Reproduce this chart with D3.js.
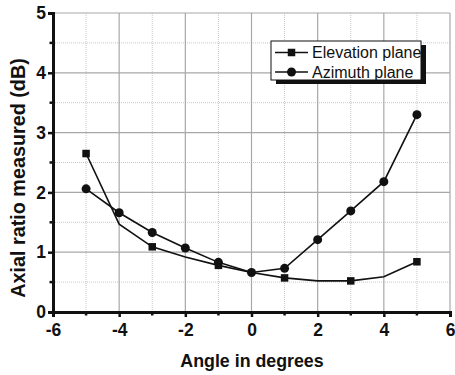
<!DOCTYPE html>
<html>
<head>
<meta charset="utf-8">
<script src="https://cdn.jsdelivr.net/npm/d3@7"></script>
<style>
  html, body { margin: 0; padding: 0; background: #fff; }
  svg { display: block; font-family: "Liberation Sans", Arial, sans-serif; }
</style>
</head>
<body>
<svg id="chart" width="455" height="375"></svg>
<script>
// Measured axial ratio vs. pointing angle
const angles = [-5, -4, -3, -2, -1, 0, 1, 2, 3, 4, 5];
const elevation = [2.65, 1.47, 1.09, 0.92, 0.78, 0.66, 0.57, 0.52, 0.52, 0.59, 0.84];
const azimuth = [2.06, 1.66, 1.33, 1.07, 0.83, 0.66, 0.73, 1.21, 1.69, 2.18, 3.30];
const elevationMarkerAngles = [-5, -3, -1, 1, 3, 5];
const xTicks = [-6, -4, -2, 0, 2, 4, 6];
const yTicks = [0, 1, 2, 3, 4, 5];
const seriesNames = ["Elevation plane", "Azimuth plane"];

(function () {
const svg = d3.select("#chart");
const mLeft = 53, mRight = 450, mTop = 13, mBottom = 312;

const x = d3.scaleLinear().domain([-6, 6]).range([mLeft, mRight]);
const y = d3.scaleLinear().domain([0, 5]).range([mBottom, mTop]);

// grid: solid major lines, dotted minor lines
const grid = svg.append("g");
const minorX = d3.range(-5, 6, 2);
const minorY = d3.range(0.5, 5, 1);
grid.selectAll(".mx").data(minorX).enter().append("line")
  .attr("x1", d => x(d)).attr("x2", d => x(d)).attr("y1", mTop).attr("y2", mBottom)
  .attr("stroke", "#c8c8c8").attr("stroke-width", 1).attr("stroke-dasharray", "1,1");
grid.selectAll(".my").data(minorY).enter().append("line")
  .attr("y1", d => y(d)).attr("y2", d => y(d)).attr("x1", mLeft).attr("x2", mRight)
  .attr("stroke", "#c8c8c8").attr("stroke-width", 1).attr("stroke-dasharray", "1,1");
grid.selectAll(".gx").data(xTicks.filter(d => d > -6)).enter().append("line")
  .attr("x1", d => x(d)).attr("x2", d => x(d)).attr("y1", mTop).attr("y2", mBottom)
  .attr("stroke", "#a8a8a8").attr("stroke-width", 1.2);
grid.selectAll(".gy").data(yTicks.filter(d => d > 0)).enter().append("line")
  .attr("y1", d => y(d)).attr("y2", d => y(d)).attr("x1", mLeft).attr("x2", mRight)
  .attr("stroke", "#a8a8a8").attr("stroke-width", 1.2);

// axes (plain hyphen for negative tick labels)
const fmt = d => String(d);
const xAxis = svg.append("g").attr("transform", `translate(0,${mBottom})`)
  .call(d3.axisBottom(x).tickValues(xTicks).tickSize(5).tickPadding(7).tickFormat(fmt));
const yAxis = svg.append("g").attr("transform", `translate(${mLeft},0)`)
  .call(d3.axisLeft(y).tickValues(yTicks).tickSize(5).tickPadding(2).tickFormat(fmt));
[xAxis, yAxis].forEach(a => {
  a.select(".domain").attr("stroke", "#111").attr("stroke-width", 3);
  a.selectAll(".tick line").attr("stroke", "#111").attr("stroke-width", 2.5);
  a.selectAll("text").attr("fill", "#111").attr("font-size", 17.5).attr("font-weight", "bold")
    .attr("font-family", "Liberation Sans, Arial, sans-serif");
});
// minor ticks
xAxis.selectAll(".minor").data(minorX).enter().append("line")
  .attr("x1", d => x(d)).attr("x2", d => x(d)).attr("y1", 0).attr("y2", 3.5)
  .attr("stroke", "#111").attr("stroke-width", 2.5);
yAxis.selectAll(".minor").data(minorY).enter().append("line")
  .attr("y1", d => y(d)).attr("y2", d => y(d)).attr("x1", 0).attr("x2", -3.5)
  .attr("stroke", "#111").attr("stroke-width", 2.5);

// axis titles
svg.append("text").attr("x", 252).attr("y", 366.5).attr("text-anchor", "middle")
  .attr("font-size", 17.8).attr("font-weight", "bold").attr("fill", "#111")
  .text("Angle in degrees");
svg.append("text").attr("transform", "translate(24.5,178) rotate(-90)").attr("text-anchor", "middle")
  .attr("font-size", 19.8).attr("font-weight", "bold").attr("fill", "#111")
  .text("Axial ratio measured (dB)");

// series
const line = d3.line().x(d => x(d[0])).y(d => y(d[1]));
const elevPts = angles.map((a, i) => [a, elevation[i]]);
const azPts = angles.map((a, i) => [a, azimuth[i]]);
svg.append("path").datum(elevPts).attr("d", line)
  .attr("fill", "none").attr("stroke", "#111").attr("stroke-width", 1.6);
svg.append("path").datum(azPts).attr("d", line)
  .attr("fill", "none").attr("stroke", "#111").attr("stroke-width", 1.6);

const sq = 7.5;
svg.selectAll(".sq").data(elevPts.filter(p => elevationMarkerAngles.includes(p[0]))).enter()
  .append("rect").attr("x", d => x(d[0]) - sq / 2).attr("y", d => y(d[1]) - sq / 2)
  .attr("width", sq).attr("height", sq).attr("fill", "#111");
svg.selectAll(".ci").data(azPts).enter()
  .append("circle").attr("cx", d => x(d[0])).attr("cy", d => y(d[1])).attr("r", 4.5)
  .attr("fill", "#111");

// legend
const lg = svg.append("g");
const lx = 271, ly = 41, lw = 150, lh = 39;
lg.append("rect").attr("x", lx + 5).attr("y", ly + 4).attr("width", lw).attr("height", lh).attr("fill", "#111");
lg.append("rect").attr("x", lx).attr("y", ly).attr("width", lw).attr("height", lh)
  .attr("fill", "#fff").attr("stroke", "#111").attr("stroke-width", 1);
seriesNames.forEach((name, i) => {
  const cy = 52.5 + i * 19.5;
  lg.append("line").attr("x1", 275).attr("x2", 308).attr("y1", cy).attr("y2", cy)
    .attr("stroke", "#111").attr("stroke-width", 1.6);
  if (i === 0) {
    lg.append("rect").attr("x", 291.5 - sq / 2).attr("y", cy - sq / 2).attr("width", sq).attr("height", sq).attr("fill", "#111");
  } else {
    lg.append("circle").attr("cx", 291.5).attr("cy", cy).attr("r", 4.5).attr("fill", "#111");
  }
  lg.append("text").attr("x", 312).attr("y", cy + 5.5).attr("font-size", 16).attr("fill", "#111").text(name);
});
})();
</script>
</body>
</html>
